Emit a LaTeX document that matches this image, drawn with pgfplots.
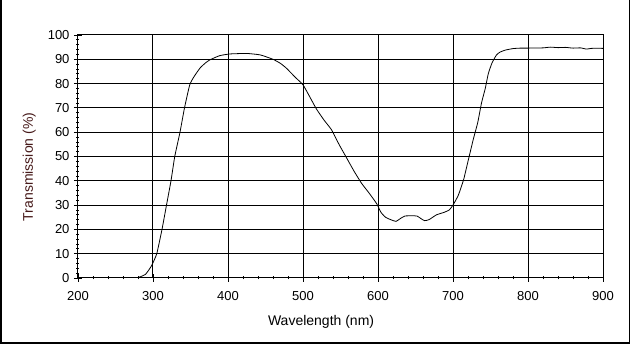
\documentclass[border=0pt]{standalone}
\usepackage{pgfplots}
\pgfplotsset{compat=1.18}
\usepackage{fontspec}
\setmainfont{Liberation Sans}
\definecolor{ylab}{RGB}{70,25,25}
\begin{document}
\begin{tikzpicture}[x=1pt,y=1pt]
\useasboundingbox (0,0) rectangle (630,344);
\draw[line width=1.5pt] (0.75,344) -- (0.75,0.75) -- (629.25,0.75) -- (629.25,344);
\begin{axis}[
  at={(78pt,66pt)}, anchor=south west,
  scale only axis, width=525pt, height=243pt,
  xmin=200, xmax=900, ymin=0, ymax=100,
  xtick={200,300,...,900}, ytick={0,10,...,100},
  minor x tick num=4, minor y tick num=4,
  grid=major,
  major grid style={black, line width=1pt},
  axis line style={black, line width=1pt},
  every tick/.style={black, line width=0.8pt},
  major tick length=8pt, minor tick length=3pt,
  tick align=center,
  minor tick style={/pgfplots/tick align=inside},
  xtick pos=bottom, ytick pos=left,
  /pgf/number format/assume math mode=true,
  tick label style={font=\fontsize{13}{15}\selectfont},
  xticklabel style={yshift=-6pt},
  yticklabel style={xshift=-1pt},
  xlabel={Wavelength (nm)}, ylabel={Transmission (\%)},
  xlabel style={font=\fontsize{14}{16}\selectfont, at={(axis description cs:0.463,-0.181)}, anchor=center},
  ylabel style={font=\fontsize{14}{16}\selectfont, color=ylab, at={(axis description cs:-0.093,0.457)}, anchor=center, rotate=0},
]
\addplot[black, line width=0.8pt, smooth, tension=0.3] coordinates {
(276,0)(280,0.2)(283,0.5)(290,1.5)(298,5)(305,10)(312,20)(318,30)(324,40)(329,50)(336,60)(342,70)(349,79.5)(355,83)(363,86.5)(370,88.5)(376,89.8)(389,91.5)(403,92.2)(425,92.4)(443,91.8)(460,90)(470,88.3)(478,86.3)(490,82.5)(500,79.5)(510,74)(518,69.5)(528,65)(538,61)(548,55)(558,49.5)(568,44)(578,39)(588,35)(598,30.7)(604,27)(610,25)(617,24)(624,23.3)(630,24.5)(636,25.5)(645,25.6)(652,25.5)(657,24.5)(662,23.6)(668,24)(678,26)(688,27)(695,28)(700,30)(707,34)(714,40.3)(720,48)(727,57)(733,64)(738,72)(743,78)(747,84)(752,88.5)(758,91.8)(763,93)(770,93.8)(780,94.4)(790,94.6)(800,94.6)(820,94.7)(830,95)(840,94.8)(850,94.9)(860,94.6)(870,94.7)(878,94.2)(885,94.5)(900,94.5)
};
\end{axis}
\end{tikzpicture}
\end{document}
